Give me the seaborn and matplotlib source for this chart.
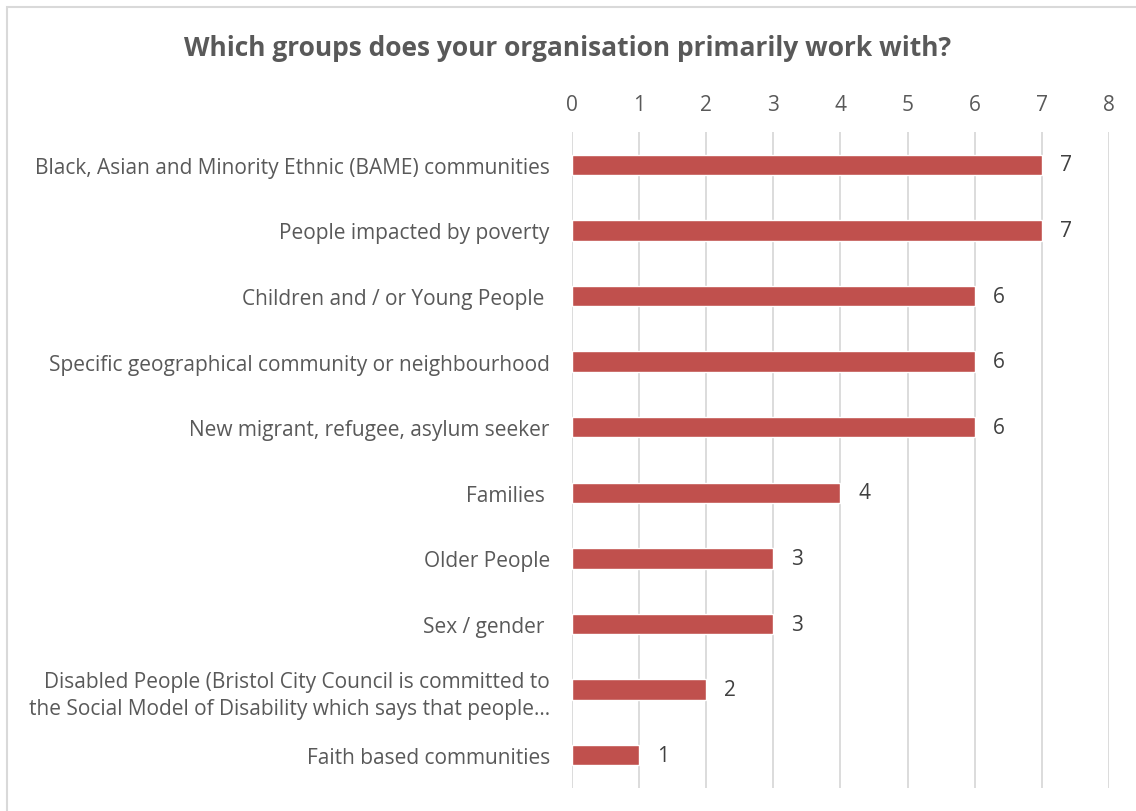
import matplotlib
matplotlib.use("Agg")
import matplotlib.pyplot as plt
import seaborn as sns
import pandas as pd
from matplotlib.patches import Rectangle

groups = [
    "Black, Asian and Minority Ethnic (BAME) communities",
    "People impacted by poverty",
    "Children and / or Young People ",
    "Specific geographical community or neighbourhood",
    "New migrant, refugee, asylum seeker",
    "Families ",
    "Older People",
    "Sex / gender ",
    "Disabled People (Bristol City Council is committed to\nthe Social Model of Disability which says that people…",
    "Faith based communities",
]
counts = [7, 7, 6, 6, 6, 4, 3, 3, 2, 1]
x_ticks = [0, 1, 2, 3, 4, 5, 6, 7, 8]

df = pd.DataFrame({"group": groups, "count": counts})

sns.set_theme(style="white")
plt.rcParams["font.family"] = ["Open Sans", "DejaVu Sans"]

text_gray = "#595959"
bar_red = "#C0504D"
grid_gray = "#D9D9D9"
fs = 15

fig = plt.figure(figsize=(11.36, 8.12), dpi=100)
ax = fig.add_axes([0.5035, 0.0283, 0.4727, 0.8079])

sns.barplot(data=df, y="group", x="count", orient="h", color=bar_red,
            saturation=1, width=0.31, ax=ax)

ax.set_xlim(0, 8)
ax.set_xticks(x_ticks)
ax.xaxis.tick_top()
ax.tick_params(axis="x", length=0, pad=12, labelsize=fs, labelcolor=text_gray)
ax.tick_params(axis="y", length=0, pad=16, labelsize=fs, labelcolor=text_gray)
for lbl in ax.get_yticklabels():
    lbl.set_multialignment("right")
    lbl.set_linespacing(1.35)
ax.set_xlabel("")
ax.set_ylabel("")
ax.xaxis.grid(True, color=grid_gray, linewidth=1.3)
ax.set_axisbelow(True)
for s in ax.spines.values():
    s.set_visible(False)

for c in ax.containers:
    ax.bar_label(c, labels=[str(v) for v in counts], padding=13,
                 fontsize=fs, color="#404040")

fig.text(0.5, 0.94, "Which groups does your organisation primarily work with?",
         ha="center", va="center", fontsize=19, fontweight="bold",
         color=text_gray)

fig.patches.append(Rectangle((0.006, -0.01), 1.1, 1.0, transform=fig.transFigure,
                             fill=False, edgecolor="#D9D9D9", linewidth=1.5))

fig.savefig("out.png", dpi=100)
